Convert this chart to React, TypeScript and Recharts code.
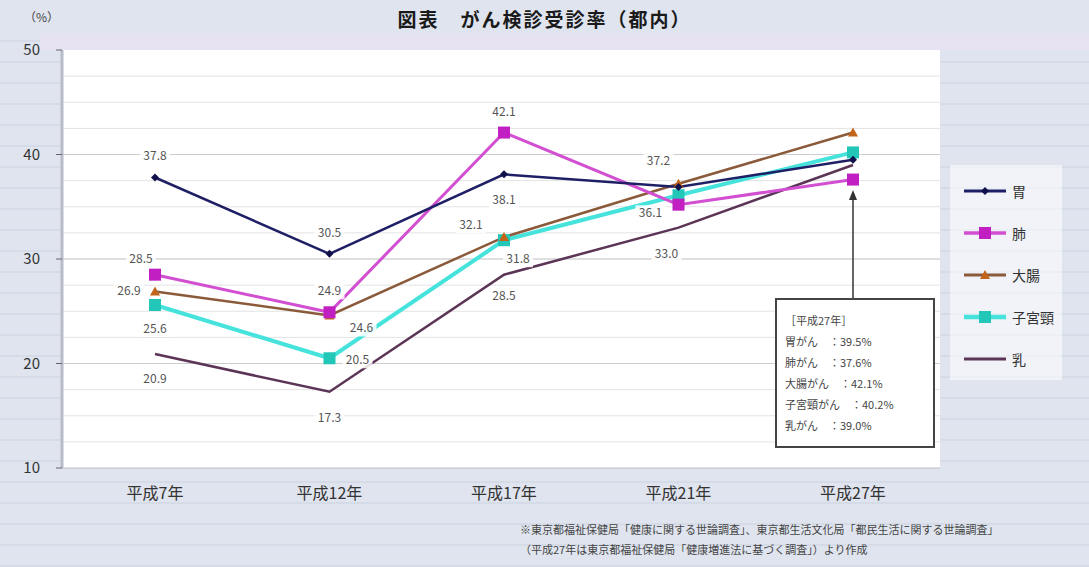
import React from "react";
import { LineChart, Line, XAxis, YAxis, CartesianGrid } from "recharts";

const years = ["平成7年", "平成12年", "平成17年", "平成21年", "平成27年"];
const stomach = [37.8, 30.5, 38.1, 36.9, 39.5];
const lung = [28.5, 24.9, 42.1, 35.2, 37.6];
const colon = [26.9, 24.6, 32.1, 37.2, 42.1];
const cervix = [25.6, 20.5, 31.8, 36.1, 40.2];
const breast = [20.9, 17.3, 28.5, 33.0, 39.0];
const yTicks = [10, 20, 30, 40, 50];
const gridValues = [12.5, 15, 17.5, 20, 22.5, 25, 27.5, 30, 32.5, 35, 37.5, 40, 42.5, 45, 47.5];

const FONT = '"Noto Sans CJK JP", "Noto Sans", sans-serif';

type Shape = "diamond" | "square" | "triangle" | "none";
type Series = {
  key: string;
  name: string;
  full: string;
  values: number[];
  color: string;
  marker: string;
  shape: Shape;
  size: number;
  width: number;
  // label offsets (dx, dy) for each point; null = no label
  offsets: ([number, number] | null)[];
};

const series: Series[] = [
  { key: "breast", name: "乳", full: "乳がん", values: breast, color: "#5b3456", marker: "#5b3456", shape: "none", size: 0, width: 2.5,
    offsets: [[0, 25], [0, 26], [0, 21], [-12, 26], null] },
  { key: "cervix", name: "子宮頸", full: "子宮頸がん", values: cervix, color: "#45e3dc", marker: "#22c7b8", shape: "square", size: 12, width: 4,
    offsets: [[0, 24], [28, 2], [14, 19], [-28, 18], null] },
  { key: "colon", name: "大腸", full: "大腸がん", values: colon, color: "#8a5a3a", marker: "#c2651a", shape: "triangle", size: 10, width: 2.5,
    offsets: [[-26, 0], [32, 13], [-33, -12], [-20, -23], null] },
  { key: "lung", name: "肺", full: "肺がん", values: lung, color: "#d24fd2", marker: "#c21fc2", shape: "square", size: 12, width: 3,
    offsets: [[-14, -16], [0, -21], [0, -21], null, null] },
  { key: "stomach", name: "胃", full: "胃がん", values: stomach, color: "#1f1f66", marker: "#10104a", shape: "diamond", size: 6, width: 2.5,
    offsets: [[0, -21], [0, -21], [0, 26], null, null] },
];

const legendOrder = ["stomach", "lung", "colon", "cervix", "breast"];

const data = years.map((year, i) => {
  const row: Record<string, string | number> = { year };
  series.forEach((s) => {
    row[s.key] = s.values[i];
  });
  return row;
});

function Marker({ shape, cx, cy, size, color }: { shape: Shape; cx: number; cy: number; size: number; color: string }) {
  const h = size / 2;
  if (shape === "square") return <rect x={cx - h} y={cy - h} width={size} height={size} fill={color} />;
  if (shape === "diamond")
    return <polygon points={`${cx},${cy - h - 1} ${cx + h + 1},${cy} ${cx},${cy + h + 1} ${cx - h - 1},${cy}`} fill={color} />;
  if (shape === "triangle")
    return <polygon points={`${cx},${cy - h} ${cx + h},${cy + h * 0.8} ${cx - h},${cy + h * 0.8}`} fill={color} />;
  return null;
}

const makeDot = (s: Series) => (props: any) => {
  const { cx, cy, index, value } = props;
  const off = s.offsets[index];
  return (
    <g key={`${s.key}-${index}`}>
      <Marker shape={s.shape} cx={cx} cy={cy} size={s.size} color={s.marker} />
      {off && (
        <g>
          <rect x={cx + off[0] - 15} y={cy + off[1] - 8} width={30} height={16} fill="#ffffff" opacity={0.85} />
          <text x={cx + off[0]} y={cy + off[1] + 4} textAnchor="middle" fontSize={12} fill="#555" fontFamily={FONT}>
            {Number(Array.isArray(value) ? value[1] : value).toFixed(1)}
          </text>
        </g>
      )}
    </g>
  );
};

export default function App() {
  const last = years.length - 1;
  return (
    <div
      style={{
        position: "absolute",
        left: 0,
        top: 0,
        width: 1089,
        height: 567,
        fontFamily: FONT,
        background:
          "repeating-linear-gradient(180deg, #dfe4ef 0px, #dfe4ef 19px, #ccd2e0 20px, #dfe4ef 21px)",
        overflow: "hidden",
      }}
    >
      <div style={{ position: "absolute", left: 0, top: 0, width: 1089, height: 32, background: "#dfe4ef" }} />
      <div style={{ position: "absolute", left: 40, top: 33, width: 1049, height: 17, background: "#e7e3f3" }} />
      <div
        style={{
          position: "absolute",
          left: 0,
          top: 5,
          width: 1089,
          textAlign: "center",
          fontSize: 19,
          fontWeight: 700,
          letterSpacing: 2,
          color: "#1a1a1a",
        }}
      >
        図表　がん検診受診率（都内）
      </div>
      <div style={{ position: "absolute", left: 24, top: 8, fontSize: 12, color: "#444" }}>（%）</div>

      <div style={{ position: "absolute", left: 0, top: 0 }}>
        <LineChart width={1089} height={567} data={data} margin={{ top: 50, right: 149, bottom: 69, left: 0 }}>
          <CartesianGrid
            horizontal
            vertical={false}
            fill="#ffffff"
            stroke="#e3e3e3"
            horizontalValues={gridValues}
          />
          <XAxis
            dataKey="year"
            padding={{ left: 93, right: 87 }}
            tickLine={false}
            axisLine={{ stroke: "#b8bcc8" }}
            tick={{ fontSize: 16, fill: "#333", fontFamily: FONT }}
            tickMargin={14}
            height={30}
          />
          <YAxis
            domain={[10, 50]}
            ticks={yTicks}
            width={62}
            tickSize={6}
            tickMargin={16}
            axisLine={{ stroke: "#b8bcc8", strokeWidth: 3 }}
            tickLine={{ stroke: "#666" }}
            tick={{ fontSize: 15, fill: "#333", fontFamily: FONT }}
            allowDataOverflow
          />
          {yTicks.slice(1, -1).map((t) => (
            <CartesianGrid key={t} horizontal vertical={false} stroke="#cdcdcd" horizontalValues={[t]} />
          ))}
          {series.map((s) => (
            <Line
              key={s.key}
              type="linear"
              dataKey={s.key}
              name={s.name}
              stroke={s.color}
              strokeWidth={s.width}
              dot={makeDot(s)}
              activeDot={false}
              isAnimationActive={false}
            />
          ))}
        </LineChart>
      </div>

      {/* arrow pointing to last category */}
      <svg style={{ position: "absolute", left: 0, top: 0 }} width={1089} height={567}>
        <line x1={853} y1={298} x2={853} y2={196} stroke="#333" strokeWidth={1.5} />
        <polygon points="853,190 849,200 857,200" fill="#333" />
      </svg>

      {/* annotation box */}
      <div
        style={{
          position: "absolute",
          left: 775,
          top: 298,
          width: 160,
          height: 150,
          border: "2px solid #444",
          background: "#ffffff",
          fontSize: 11,
          color: "#444",
          padding: "10px 0 0 8px",
          boxSizing: "border-box",
          lineHeight: "21px",
        }}
      >
        <div>［{years[last]}］</div>
        {legendOrder.map((k) => {
          const s = series.find((x) => x.key === k)!;
          return (
            <div key={k}>
              {s.full}　：{s.values[last].toFixed(1)}%
            </div>
          );
        })}
      </div>

      {/* legend */}
      <div
        style={{
          position: "absolute",
          left: 950,
          top: 165,
          width: 112,
          height: 215,
          background: "rgba(255,255,255,0.55)",
        }}
      >
        {legendOrder.map((k, i) => {
          const s = series.find((x) => x.key === k)!;
          return (
            <div key={k} style={{ position: "absolute", left: 10, top: 16 + i * 42, display: "flex", alignItems: "center" }}>
              <svg width={48} height={20}>
                <line x1={4} y1={10} x2={46} y2={10} stroke={s.color} strokeWidth={s.width + 0.5} />
                <Marker shape={s.shape} cx={25} cy={10} size={s.size} color={s.marker} />
              </svg>
              <span style={{ fontSize: 14, color: "#333", marginLeft: 4 }}>{s.name}</span>
            </div>
          );
        })}
      </div>

      {/* source notes */}
      <div style={{ position: "absolute", left: 520, top: 519, fontSize: 11, color: "#444", lineHeight: "20px" }}>
        <div>※東京都福祉保健局「健康に関する世論調査」、東京都生活文化局「都民生活に関する世論調査」</div>
        <div>（平成27年は東京都福祉保健局「健康増進法に基づく調査」）より作成</div>
      </div>
    </div>
  );
}
